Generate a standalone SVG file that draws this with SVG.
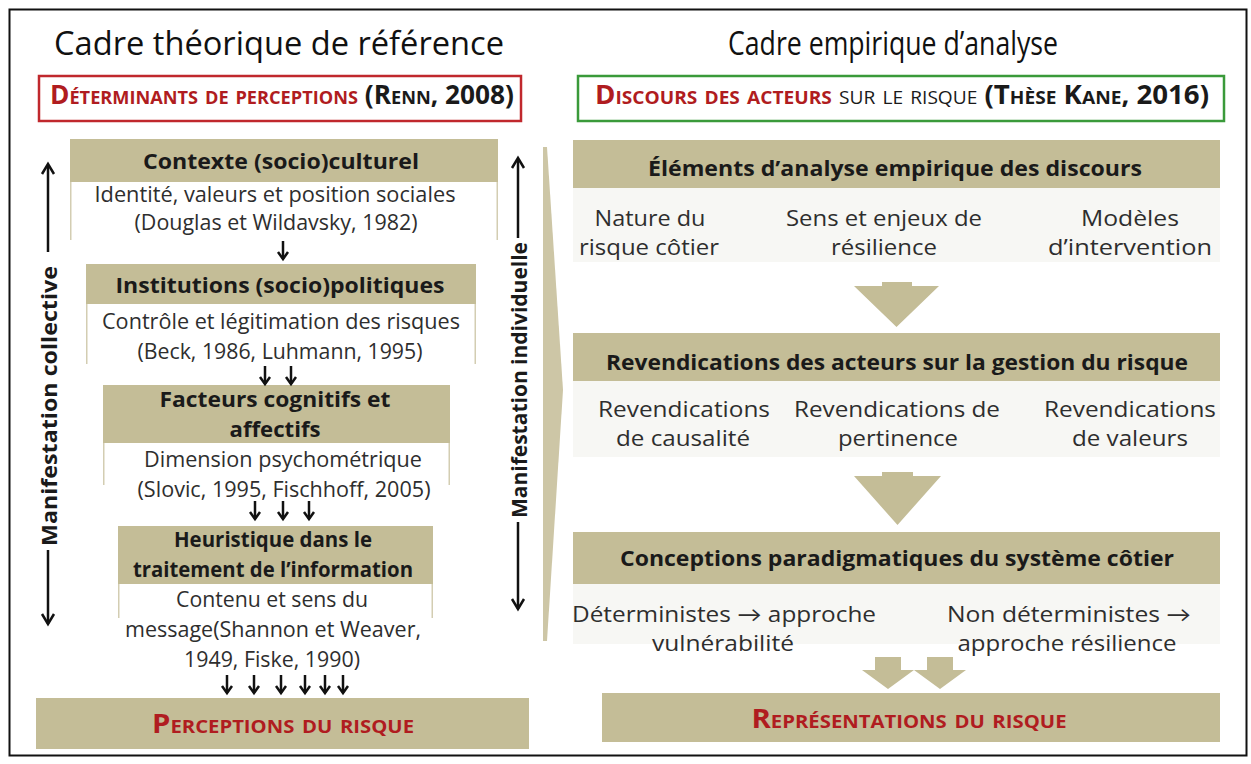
<svg xmlns="http://www.w3.org/2000/svg" width="1251" height="764" viewBox="0 0 1251 764">
<style>
text{font-family:"Open Sans",Lato,"Liberation Sans",sans-serif;fill:#1a1a1a}
.title{font-size:32px;text-anchor:middle;fill:#111}
.hd{font-size:22px;font-weight:bold;text-anchor:middle}
.bd{font-size:21px;text-anchor:middle;fill:#2e2e2e}
.tan{fill:#c4bd97}
.side{stroke:#d3cdb2;stroke-width:1.5;fill:none}
.red{fill:#b01c20}
.sc{font-variant:small-caps;font-weight:bold}
.arr{stroke:#111;stroke-width:2.5;fill:none}
.light{fill:#f7f7f4}
</style>
<defs>
<g id="dn"><line x1="0" y1="0" x2="0" y2="18" class="arr"/><polyline points="-5,11 0,18 5,11" class="arr"/></g>
</defs>
<rect x="9.5" y="9.5" width="1237" height="746" fill="#fff" stroke="#111" stroke-width="2"/>

<g id="titles">
<text class="title" x="279" y="55" textLength="450" lengthAdjust="spacingAndGlyphs">Cadre théorique de référence</text>
<text class="title" x="893" y="55" font-size="30" textLength="330" lengthAdjust="spacingAndGlyphs">Cadre empirique d’analyse</text>
</g>

<g id="box-determinants">
<rect x="39" y="76" width="482" height="45" fill="#fff" stroke="#c0282d" stroke-width="2.5"/>
<text x="50" y="104" font-size="26" class="sc" textLength="464" lengthAdjust="spacingAndGlyphs"><tspan fill="#b01c20">Déterminants  de perceptions</tspan> (Renn, 2008)</text>
</g>

<g id="box-discours">
<rect x="578" y="76" width="646" height="45" fill="#fff" stroke="#3a9a3a" stroke-width="2.5"/>
<text x="595" y="104" font-size="26" class="sc" textLength="614" lengthAdjust="spacingAndGlyphs"><tspan fill="#b01c20">Discours des acteurs</tspan> <tspan font-weight="normal">sur le risque</tspan> (Thèse Kane, 2016)</text>
</g>

<g id="manif-collective">
<line x1="48" y1="165" x2="48" y2="252" class="arr"/><polyline points="42,174 48,164 54,174" class="arr"/>
<text transform="translate(57,406) rotate(-90)" font-size="21" font-weight="bold" text-anchor="middle" textLength="280" lengthAdjust="spacingAndGlyphs">Manifestation collective</text>
<line x1="48" y1="550" x2="48" y2="624" class="arr"/><polyline points="42,614 48,624 54,614" class="arr"/>
</g>

<g id="manif-individuelle">
<line x1="518" y1="159" x2="518" y2="238" class="arr"/><polyline points="512,168 518,158 524,168" class="arr"/>
<text transform="translate(527,380) rotate(-90)" font-size="21" font-weight="bold" text-anchor="middle" textLength="276" lengthAdjust="spacingAndGlyphs">Manifestation individuelle</text>
<line x1="518" y1="522" x2="518" y2="609" class="arr"/><polyline points="512,599 518,609 524,599" class="arr"/>
</g>

<g id="chevron">
<polygon points="543,147 547,147 563,390 547,641 543,641" fill="#cdc6a6"/>
</g>

<g id="contexte">
<rect class="tan" x="70" y="139" width="428" height="43"/>
<path class="side" d="M70.75,182 V240 M497.25,182 V240"/>
<text class="hd" x="281" y="169" textLength="276" lengthAdjust="spacingAndGlyphs">Contexte (socio)culturel</text>
<text class="bd" x="275" y="202" textLength="361" lengthAdjust="spacingAndGlyphs">Identité, valeurs et position sociales</text>
<text class="bd" x="276" y="230" textLength="283" lengthAdjust="spacingAndGlyphs">(Douglas et Wildavsky, 1982)</text>
</g>

<g id="institutions">
<rect class="tan" x="86" y="264" width="390" height="40"/>
<path class="side" d="M86.75,304 V364 M475.25,304 V364"/>
<text class="hd" x="280" y="293" textLength="329" lengthAdjust="spacingAndGlyphs">Institutions (socio)politiques</text>
<text class="bd" x="281" y="329" textLength="358" lengthAdjust="spacingAndGlyphs">Contrôle et légitimation des risques</text>
<text class="bd" x="280" y="359" textLength="285" lengthAdjust="spacingAndGlyphs">(Beck, 1986,  Luhmann, 1995)</text>
</g>

<g id="facteurs">
<rect class="tan" x="103" y="385" width="347" height="58"/>
<path class="side" d="M103.75,443 V485 M449.25,443 V485"/>
<text class="hd" x="275" y="407" textLength="231" lengthAdjust="spacingAndGlyphs">Facteurs cognitifs et</text>
<text class="hd" x="275" y="437" textLength="91" lengthAdjust="spacingAndGlyphs">affectifs</text>
<text class="bd" x="283" y="467" textLength="278" lengthAdjust="spacingAndGlyphs">Dimension psychométrique</text>
<text class="bd" x="284" y="497" textLength="293" lengthAdjust="spacingAndGlyphs">(Slovic, 1995,  Fischhoff, 2005)</text>
</g>

<g id="heuristique">
<rect class="tan" x="118" y="526" width="315" height="58"/>
<path class="side" d="M118.75,584 V618 M432.25,584 V618"/>
<text class="hd" x="273" y="547" font-size="19" textLength="198" lengthAdjust="spacingAndGlyphs">Heuristique dans le</text>
<text class="hd" x="273" y="577" font-size="19" textLength="280" lengthAdjust="spacingAndGlyphs">traitement de l’information</text>
<text class="bd" x="272" y="607" textLength="192" lengthAdjust="spacingAndGlyphs">Contenu et sens du</text>
<text class="bd" x="273" y="637" textLength="296" lengthAdjust="spacingAndGlyphs">message(Shannon et Weaver,</text>
<text class="bd" x="272" y="667" textLength="176" lengthAdjust="spacingAndGlyphs">1949,  Fiske, 1990)</text>
</g>

<g id="perceptions">
<rect class="tan" x="36" y="698" width="493" height="51"/>
<text x="283" y="733" text-anchor="middle" font-size="26" class="sc red" textLength="262" lengthAdjust="spacingAndGlyphs">Perceptions du risque</text>
</g>

<g id="connectors">
<use href="#dn" x="283" y="241"/>
<use href="#dn" x="265" y="366"/>
<use href="#dn" x="291" y="366"/>
<use href="#dn" x="255" y="501"/>
<use href="#dn" x="283" y="501"/>
<use href="#dn" x="309" y="501"/>
<use href="#dn" x="227" y="675"/>
<use href="#dn" x="254" y="675"/>
<use href="#dn" x="281" y="675"/>
<use href="#dn" x="305" y="675"/>
<use href="#dn" x="325" y="675"/>
<use href="#dn" x="343" y="675"/>
<polygon class="tan" points="882,282 912,282 912,286 939,286 896.5,327 854,286 882,286"/>
<polygon class="tan" points="882,472 913,472 913,476 941,476 897.5,525 854,476 882,476"/>
<polygon class="tan" points="875,657 901,657 901,670 914,670 888,689 862,670 875,670"/>
<polygon class="tan" points="927,657 953,657 953,670 966,670 940,689 914,670 927,670"/>
</g>

<g id="elements">
<rect class="tan" x="573" y="140" width="647" height="48"/>
<rect class="light" x="573" y="188" width="647" height="74"/>
<text class="hd" x="895" y="176" textLength="494" lengthAdjust="spacingAndGlyphs">Éléments d’analyse empirique des discours</text>
<text class="bd" x="650" y="226" textLength="111" lengthAdjust="spacingAndGlyphs">Nature du</text>
<text class="bd" x="649" y="255" textLength="140" lengthAdjust="spacingAndGlyphs">risque côtier</text>
<text class="bd" x="884" y="226" textLength="196" lengthAdjust="spacingAndGlyphs">Sens et enjeux de</text>
<text class="bd" x="884" y="255" textLength="106" lengthAdjust="spacingAndGlyphs">résilience</text>
<text class="bd" x="1130" y="226" textLength="98" lengthAdjust="spacingAndGlyphs">Modèles</text>
<text class="bd" x="1130" y="255" textLength="164" lengthAdjust="spacingAndGlyphs">d’intervention</text>
</g>

<g id="revendications">
<rect class="tan" x="573" y="333" width="647" height="48"/>
<rect class="light" x="573" y="381" width="647" height="76"/>
<text class="hd" x="897" y="370" textLength="582" lengthAdjust="spacingAndGlyphs">Revendications des acteurs sur la gestion du risque</text>
<text class="bd" x="684" y="417" textLength="172" lengthAdjust="spacingAndGlyphs">Revendications</text>
<text class="bd" x="683" y="446" textLength="134" lengthAdjust="spacingAndGlyphs">de causalité</text>
<text class="bd" x="897" y="417" textLength="206" lengthAdjust="spacingAndGlyphs">Revendications de</text>
<text class="bd" x="898" y="446" textLength="120" lengthAdjust="spacingAndGlyphs">pertinence</text>
<text class="bd" x="1130" y="417" textLength="172" lengthAdjust="spacingAndGlyphs">Revendications</text>
<text class="bd" x="1130" y="446" textLength="116" lengthAdjust="spacingAndGlyphs">de valeurs</text>
</g>

<g id="conceptions">
<rect class="tan" x="573" y="532" width="647" height="52"/>
<rect class="light" x="573" y="584" width="647" height="60"/>
<text class="hd" x="897" y="566" textLength="554" lengthAdjust="spacingAndGlyphs">Conceptions paradigmatiques du système côtier</text>
<text class="bd" x="724" y="622" textLength="304" lengthAdjust="spacingAndGlyphs">Déterministes → approche</text>
<text class="bd" x="723" y="651" textLength="142" lengthAdjust="spacingAndGlyphs">vulnérabilité</text>
<text class="bd" x="1069" y="622" textLength="244" lengthAdjust="spacingAndGlyphs">Non déterministes →</text>
<text class="bd" x="1067" y="651" textLength="219" lengthAdjust="spacingAndGlyphs">approche résilience</text>
</g>

<g id="representations">
<rect class="tan" x="602" y="693" width="618" height="49"/>
<text x="909" y="728" text-anchor="middle" font-size="26" class="sc red" textLength="315" lengthAdjust="spacingAndGlyphs">Représentations du risque</text>
</g>
</svg>
